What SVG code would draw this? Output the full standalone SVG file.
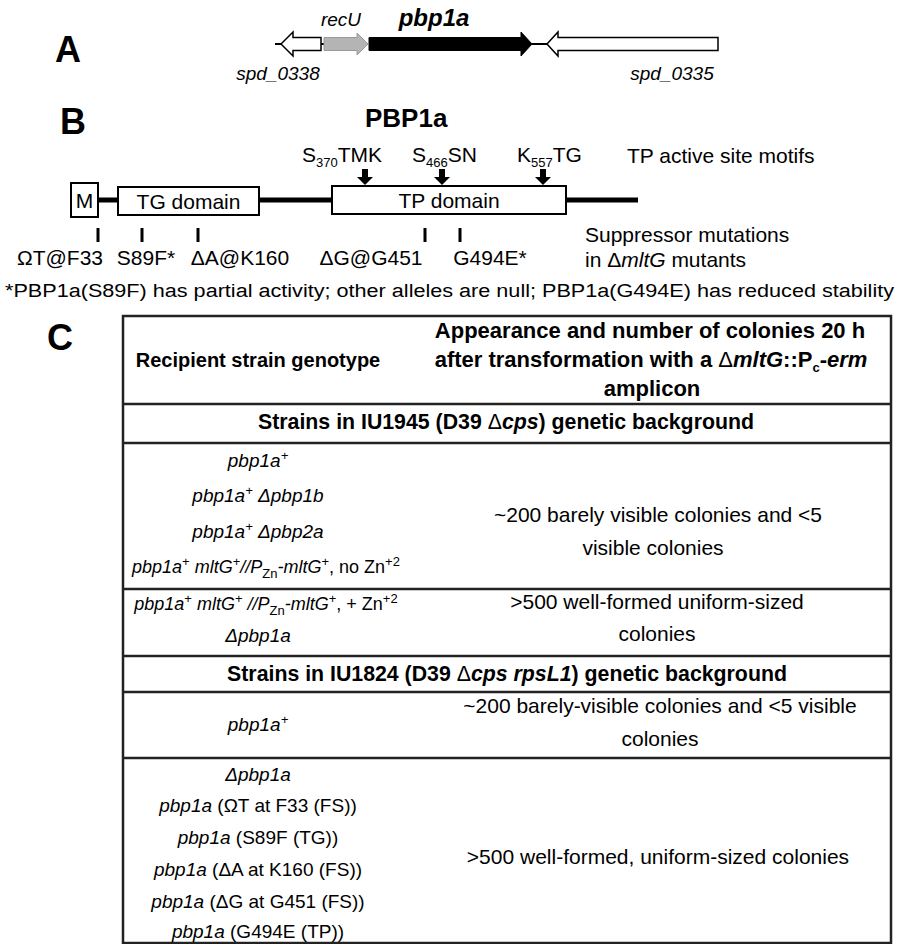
<svg xmlns="http://www.w3.org/2000/svg" width="899" height="944" viewBox="0 0 899 944">
<style>
text { font-family: "Liberation Sans", Arial, sans-serif; fill: #000; }
.lbl { font-size: 36px; font-weight: bold; }
.gene { font-size: 19px; font-style: italic; text-anchor: middle; }
.mot { font-size: 21px; }
.mut { font-size: 21px; text-anchor: middle; }
.c1 { font-size: 19px; text-anchor: middle; }
.c2 { font-size: 21px; text-anchor: middle; }
.hb { font-size: 22px; font-weight: bold; text-anchor: middle; }
.sb { font-size: 21.3px; font-weight: bold; text-anchor: middle; }
.it { font-style: italic; }
.nb { font-weight: normal; }
.sub { font-size: 13px; }
.sup { font-size: 13px; }
.ga { stroke: #000; stroke-width: 1.5; stroke-linejoin: miter; }
.box { fill: #fff; stroke: #000; stroke-width: 2; }
.grid { stroke: #222; stroke-width: 2.5; fill: none; }
</style>

<!-- Panel A -->
<g id="panelA">
  <text class="lbl" x="55" y="62">A</text>
  <g id="connectorsA">
    <line x1="275" y1="44" x2="282" y2="44" stroke="#000" stroke-width="2"/>
    <line x1="320" y1="44" x2="324" y2="44" stroke="#000" stroke-width="2"/>
    <line x1="531" y1="44" x2="547" y2="44" stroke="#000" stroke-width="2"/>
  </g>
  <g id="gene-spd0338">
    <polygon class="ga" fill="#fff" points="281,44 293,32 293,37.5 321,37.5 321,50.5 293,50.5 293,56"/>
    <text class="gene" x="278" y="80">spd_0338</text>
  </g>
  <g id="gene-recU">
    <polygon fill="#b4b4b4" stroke="#9a9a9a" stroke-width="1" points="324,37.5 357,37.5 357,33 368,44 357,55 357,50.5 324,50.5"/>
    <text class="gene" x="341" y="26">recU</text>
  </g>
  <g id="gene-pbp1a">
    <polygon fill="#000" stroke="#000" stroke-width="1" points="369,37.5 521,37.5 521,32 532,44 521,56 521,50.5 369,50.5"/>
    <text x="434" y="26" style="font-size:24px;font-weight:bold;font-style:italic;text-anchor:middle">pbp1a</text>
  </g>
  <g id="gene-spd0335">
    <polygon class="ga" fill="#fff" points="547,44 558,32 558,37.5 718,37.5 718,50.5 558,50.5 558,56"/>
    <text class="gene" x="672" y="80">spd_0335</text>
  </g>
</g>

<!-- Panel B -->
<g id="panelB">
  <text class="lbl" x="60" y="134">B</text>
  <text x="365" y="127" style="font-size:26px;font-weight:bold">PBP1a</text>
  <g id="motifs">
    <text class="mot" x="302" y="162">S<tspan class="sub" dy="5">370</tspan><tspan dy="-5">TMK</tspan></text>
    <text class="mot" x="412" y="162">S<tspan class="sub" dy="5">466</tspan><tspan dy="-5">SN</tspan></text>
    <text class="mot" x="517" y="162">K<tspan class="sub" dy="5">557</tspan><tspan dy="-5">TG</tspan></text>
    <text class="mot" x="627" y="163">TP active site motifs</text>
  </g>
  <g id="motif-arrows" fill="#000">
    <path d="M362,169 h6 v8 h5 l-8,8 l-8,-8 h5 z"/>
    <path d="M439,169 h6 v8 h5 l-8,8 l-8,-8 h5 z"/>
    <path d="M540,169 h6 v8 h5 l-8,8 l-8,-8 h5 z"/>
  </g>
  <line id="backbone" x1="98" y1="200" x2="638" y2="200" stroke="#000" stroke-width="5"/>
  <g id="domain-M">
    <rect class="box" x="71" y="183" width="27" height="34"/>
    <text class="mot" x="84.5" y="208" text-anchor="middle">M</text>
  </g>
  <g id="domain-TG">
    <rect class="box" x="118" y="187" width="141" height="28"/>
    <text class="mot" x="188.5" y="209" text-anchor="middle">TG domain</text>
  </g>
  <g id="domain-TP">
    <rect class="box" x="332" y="186" width="234" height="28"/>
    <text class="mot" x="449" y="208" text-anchor="middle">TP domain</text>
  </g>
  <g id="ticks" fill="#000">
    <rect x="96.5" y="228" width="3" height="14"/>
    <rect x="140.5" y="228" width="3" height="14"/>
    <rect x="196.5" y="228" width="3" height="14"/>
    <rect x="423.5" y="228" width="3" height="14"/>
    <rect x="458.5" y="228" width="3" height="14"/>
  </g>
  <g id="mutations">
    <text class="mut" x="60" y="265">ΩT@F33</text>
    <text class="mut" x="146" y="265">S89F*</text>
    <text class="mut" x="240" y="265">ΔA@K160</text>
    <text class="mut" x="371" y="265">ΔG@G451</text>
    <text class="mut" x="490" y="265">G494E*</text>
    <text class="mot" x="585" y="242">Suppressor mutations</text>
    <text class="mot" x="585" y="267">in Δ<tspan class="it">mltG</tspan> mutants</text>
  </g>
  <text x="5" y="297" style="font-size:18px" textLength="889" lengthAdjust="spacingAndGlyphs">*PBP1a(S89F) has partial activity; other alleles are null; PBP1a(G494E) has reduced stability</text>
</g>

<!-- Panel C -->
<g id="panelC">
  <text class="lbl" x="47" y="350">C</text>
  <g id="table-grid">
    <rect class="grid" x="123" y="316" width="768" height="627"/>
    <line class="grid" x1="123" y1="404" x2="891" y2="404"/>
    <line class="grid" x1="123" y1="443" x2="891" y2="443"/>
    <line class="grid" x1="123" y1="589" x2="891" y2="589"/>
    <line class="grid" x1="123" y1="656" x2="891" y2="656"/>
    <line class="grid" x1="123" y1="692" x2="891" y2="692"/>
    <line class="grid" x1="123" y1="758" x2="891" y2="758"/>
  </g>
  <g id="header">
    <text class="hb" x="258" y="367" style="font-size:20px">Recipient strain genotype</text>
    <text class="hb" x="650" y="338">Appearance and number of colonies 20 h</text>
    <text class="hb" x="651" y="367">after transformation with a <tspan class="nb">Δ</tspan><tspan class="it">mltG</tspan>::P<tspan class="sub" dy="5">c</tspan><tspan dy="-5">-</tspan><tspan class="it">erm</tspan></text>
    <text class="hb" x="652" y="396">amplicon</text>
  </g>
  <text class="sb" x="506" y="429">Strains in IU1945 (D39 <tspan class="nb">Δ</tspan><tspan class="it">cps</tspan>) genetic background</text>
  <g id="row1">
    <text class="c1 it" x="258" y="467">pbp1a<tspan class="sup" dy="-7">+</tspan></text>
    <text class="c1 it" x="258" y="502">pbp1a<tspan class="sup" dy="-7">+</tspan><tspan dy="7"> Δpbp1b</tspan></text>
    <text class="c1 it" x="258" y="538">pbp1a<tspan class="sup" dy="-7">+</tspan><tspan dy="7"> Δpbp2a</tspan></text>
    <text class="c1" x="266" y="573" style="font-size:18px"><tspan class="it">pbp1a</tspan><tspan class="sup" dy="-7">+</tspan><tspan class="it" dy="7"> mltG</tspan><tspan class="sup" dy="-7">+</tspan><tspan class="it" dy="7">//P</tspan><tspan class="sub" dy="5">Zn</tspan><tspan class="it" dy="-5">-mltG</tspan><tspan class="sup" dy="-7">+</tspan><tspan dy="7">, no Zn</tspan><tspan class="sup" dy="-7">+2</tspan></text>
    <text class="c2" x="658" y="522">~200 barely visible colonies and &lt;5</text>
    <text class="c2" x="653" y="555">visible colonies</text>
  </g>
  <g id="row2">
    <text class="c1" x="266" y="610" style="font-size:18px"><tspan class="it">pbp1a</tspan><tspan class="sup" dy="-7">+</tspan><tspan class="it" dy="7"> mltG</tspan><tspan class="sup" dy="-7">+</tspan><tspan class="it" dy="7"> //P</tspan><tspan class="sub" dy="5">Zn</tspan><tspan class="it" dy="-5">-mltG</tspan><tspan class="sup" dy="-7">+</tspan><tspan dy="7">, + Zn</tspan><tspan class="sup" dy="-7">+2</tspan></text>
    <text class="c1 it" x="258" y="642">Δpbp1a</text>
    <text class="c2" x="657" y="609">&gt;500 well-formed uniform-sized</text>
    <text class="c2" x="657" y="641">colonies</text>
  </g>
  <text class="sb" x="507" y="681">Strains in IU1824 (D39 <tspan class="nb">Δ</tspan><tspan class="it">cps rpsL1</tspan>) genetic background</text>
  <g id="row3">
    <text class="c1 it" x="258" y="731">pbp1a<tspan class="sup" dy="-7">+</tspan></text>
    <text class="c2" x="660" y="713">~200 barely-visible colonies and &lt;5 visible</text>
    <text class="c2" x="660" y="746">colonies</text>
  </g>
  <g id="row4">
    <text class="c1 it" x="258" y="781">Δpbp1a</text>
    <text class="c1" x="258" y="812"><tspan class="it">pbp1a</tspan> (ΩT at F33 (FS))</text>
    <text class="c1" x="258" y="844"><tspan class="it">pbp1a</tspan> (S89F (TG))</text>
    <text class="c1" x="258" y="876"><tspan class="it">pbp1a</tspan> (ΔA at K160 (FS))</text>
    <text class="c1" x="258" y="908"><tspan class="it">pbp1a</tspan> (ΔG at G451 (FS))</text>
    <text class="c1" x="258" y="938"><tspan class="it">pbp1a</tspan> (G494E (TP))</text>
    <text class="c2" x="658" y="864">&gt;500 well-formed, uniform-sized colonies</text>
  </g>
</g>
</svg>
